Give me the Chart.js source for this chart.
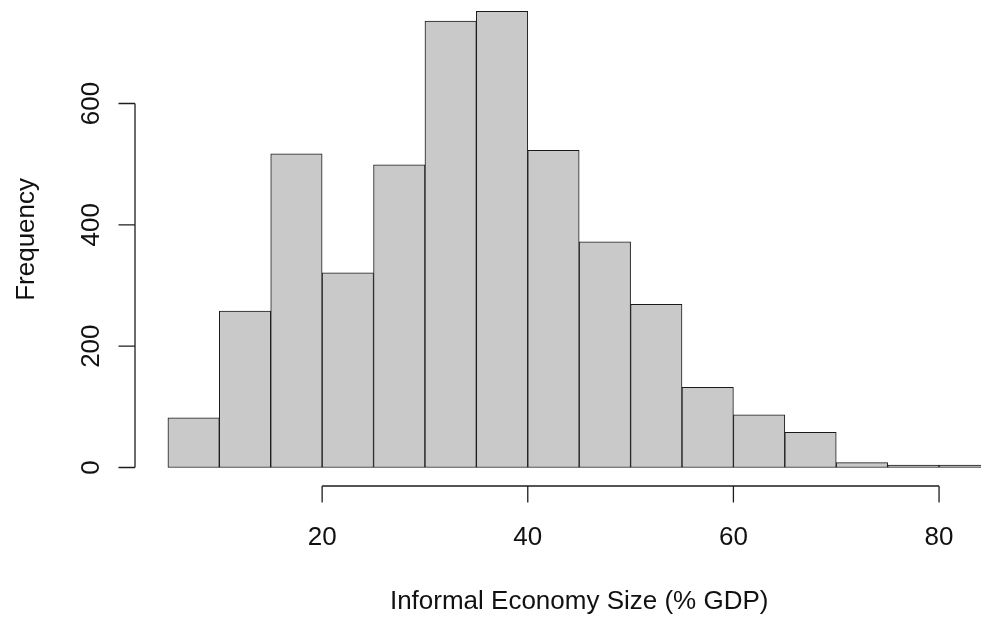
<!DOCTYPE html>
<html>
<head>
<meta charset="utf-8">
<title>Informal Economy Size histogram</title>
<script src="https://cdn.jsdelivr.net/npm/chart.js@4/dist/chart.umd.min.js"></script>
<style>
  html, body { margin: 0; padding: 0; background: #ffffff; overflow: hidden; }
  canvas { display: block; }
</style>
</head>
<body>
<canvas id="hist" width="981" height="623"></canvas>
<script>
// Histogram bins: left edge of each 5-point class and its count
const binStarts = [5, 10, 15, 20, 25, 30, 35, 40, 45, 50, 55, 60, 65, 70, 75, 80];
const binWidth = 5;
const counts = [82, 258, 517, 321, 499, 736, 752, 523, 372, 269, 132, 87, 58, 8, 4, 4];

// Axis annotations
const xTicks = [20, 40, 60, 80];
const yTicks = [0, 200, 400, 600];
const xTitle = 'Informal Economy Size (% GDP)';
const yTitle = 'Frequency';

const FONT = '26px "Liberation Sans", Arial, Helvetica, sans-serif';

// Base-graphics style axes: the axis line only spans first to last tick,
// ticks point outwards, y labels are rotated parallel to the axis.
const classicAxes = {
  id: 'classicAxes',
  afterDraw(chart) {
    const { ctx, chartArea, scales: { x, y } } = chart;
    const tickLen = 16.5;
    ctx.save();
    ctx.strokeStyle = '#1e1e1e';
    ctx.lineWidth = 1.3;
    ctx.fillStyle = '#111111';
    ctx.font = FONT;

    // x axis
    const axisY = chartArea.bottom;
    ctx.beginPath();
    ctx.moveTo(x.getPixelForValue(xTicks[0]), axisY);
    ctx.lineTo(x.getPixelForValue(xTicks[xTicks.length - 1]), axisY);
    xTicks.forEach(v => {
      const px = x.getPixelForValue(v);
      ctx.moveTo(px, axisY);
      ctx.lineTo(px, axisY + tickLen);
    });
    ctx.stroke();
    ctx.textAlign = 'center';
    ctx.textBaseline = 'alphabetic';
    xTicks.forEach(v => ctx.fillText(String(v), x.getPixelForValue(v), axisY + 59));

    // x title, centred on the full bin range
    const xMid = (binStarts[0] + binStarts[binStarts.length - 1] + binWidth) / 2;
    ctx.fillText(xTitle, x.getPixelForValue(xMid), axisY + 123);

    // y axis
    const axisX = chartArea.left;
    ctx.beginPath();
    ctx.moveTo(axisX, y.getPixelForValue(yTicks[0]));
    ctx.lineTo(axisX, y.getPixelForValue(yTicks[yTicks.length - 1]));
    yTicks.forEach(v => {
      const py = y.getPixelForValue(v);
      ctx.moveTo(axisX, py);
      ctx.lineTo(axisX - tickLen, py);
    });
    ctx.stroke();
    yTicks.forEach(v => {
      ctx.save();
      ctx.translate(axisX - 36.5, y.getPixelForValue(v));
      ctx.rotate(-Math.PI / 2);
      ctx.fillText(String(v), 0, 0);
      ctx.restore();
    });

    // y title
    ctx.save();
    ctx.translate(axisX - 101.5, y.getPixelForValue(Math.max(...counts) / 2));
    ctx.rotate(-Math.PI / 2);
    ctx.fillText(yTitle, 0, 0);
    ctx.restore();

    ctx.restore();
  }
};

new Chart(document.getElementById('hist'), {
  type: 'bar',
  data: {
    datasets: [{
      data: binStarts.map((b, i) => ({ x: b + binWidth / 2, y: counts[i] })),
      backgroundColor: '#c9c9c9',
      borderColor: '#1a1a1a',
      borderWidth: 1,
      borderSkipped: false,
      barPercentage: 1,
      categoryPercentage: 1
    }]
  },
  options: {
    responsive: false,
    animation: false,
    devicePixelRatio: 1,
    layout: { padding: { left: 135, right: 0, top: 0, bottom: 137 } },
    plugins: {
      legend: { display: false },
      title: { display: false },
      tooltip: { enabled: false }
    },
    scales: {
      x: { type: 'linear', min: 1.8, max: 84.08, offset: false, grid: { offset: false }, display: false },
      y: { type: 'linear', min: -30.5, max: 770.6, display: false }
    }
  },
  plugins: [classicAxes]
});
</script>
</body>
</html>
